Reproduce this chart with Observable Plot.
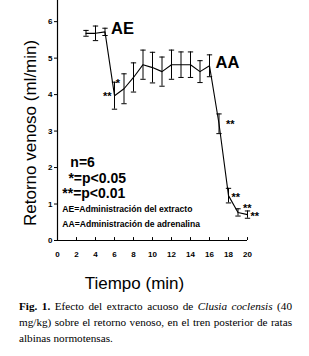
<!DOCTYPE html>
<html>
<head>
<meta charset="utf-8">
<script src="https://cdn.jsdelivr.net/npm/d3@7"></script>
<script src="https://cdn.jsdelivr.net/npm/@observablehq/plot@0.6"></script>
<style>
  html, body { margin: 0; padding: 0; background: #fff; }
  #chart svg { display: block; }
  #caption {
    font-family: "Liberation Serif", "Times New Roman", serif;
    font-size: 11.2px;
    line-height: 16px;
    width: 273px;
    margin: 3px 0 0 19px;
    color: #000;
  }
  #caption div { white-space: nowrap; }
  #caption div.j { text-align: justify; text-align-last: justify; }
</style>
</head>
<body>
<div id="chart"></div>
<div id="caption">
  <div class="j"><span><b>Fig. 1.</b></span> <span>Efecto del extracto acuoso de</span> <span><i>Clusia coclensis</i></span> <span>(40</span></div>
  <div class="j"><span>mg/kg)</span> <span>sobre el retorno venoso, en el tren posterior de ratas</span></div>
  <div><span>albinas normotensas.</span></div>
</div>
<script>
// Data
const time   = [3, 4, 5, 6, 7, 8, 9, 10, 11, 12, 13, 14, 15, 16, 17, 18, 19, 20];
const retorno = [5.68, 5.68, 5.72, 3.97, 4.16, 4.47, 4.82, 4.74, 4.63, 4.82, 4.82, 4.82, 4.63, 4.79, 3.2, 1.23, 0.77, 0.71];
const errorSE = [0.08, 0.2, 0.1, 0.37, 0.41, 0.4, 0.4, 0.42, 0.4, 0.4, 0.35, 0.35, 0.3, 0.3, 0.27, 0.2, 0.1, 0.1];
const signif  = ["", "", "", "**", "*", "", "", "", "", "", "", "", "", "", "**", "**", "**", "**"];
const xTicks = [0, 2, 4, 6, 8, 10, 12, 14, 16, 18, 20];
const yTicks = [0, 1, 2, 3, 4, 5, 6];
const eventTime = [5, 16];
const eventLabel = ["AE", "AA"];
const notesText = ["n=6", "*=p<0.05", "**=p<0.01"];
const notesX = [1.35, 1.15, 0.5];
const notesY = [2.13, 1.71, 1.29];
const legendText = ["AE=Administración del extracto", "AA=Administración de adrenalina"];
const legendY = [0.85, 0.44];
const yLabel = "Retorno venoso (ml/min)";
const xLabel = "Tiempo (min)";

const data = time.map((t, i) => ({t, v: retorno[i], e: errorSE[i], s: signif[i]}));
const events = eventTime.map((t, i) => ({t, v: retorno[time.indexOf(t)], label: eventLabel[i]}));
const notes = notesText.map((s, i) => ({s, x: notesX[i], y: notesY[i]}));
const legend = legendText.map((s, i) => ({s, y: legendY[i]}));

// star placement per point (style only)
const starDx = {6: -3, 7: -4, 17: 7, 18: 3, 19: 5, 20: 3};
const starDy = {6: 1, 7: -5, 17: 1, 18: 2, 19: -4, 20: 2};
const starAnchor = {6: "end", 7: "end", 17: "start", 18: "start", 19: "start", 20: "start"};

const font = "'Liberation Sans', Arial, sans-serif";
const stars = data.filter(d => d.s);

const chart = Plot.plot({
  width: 309,
  height: 295,
  marginLeft: 57,
  marginRight: 62,
  marginTop: 0,
  marginBottom: 55,
  style: {fontFamily: font, color: "#000", background: "#fff", overflow: "visible"},
  x: {type: "linear", domain: [0, 20]},
  y: {type: "linear", domain: [0, 6.58]},
  marks: [
    // axes lines
    Plot.ruleY([0], {x1: 0, x2: 20, stroke: "#000", strokeWidth: 1.2}),
    Plot.ruleX([0], {y1: 0, y2: 6.58, stroke: "#000", strokeWidth: 1.2}),
    // x ticks (inward)
    Plot.ruleX(xTicks, {x: d => d, y1: 0, y2: 0.08, stroke: "#000", strokeWidth: 1}),
    Plot.axisX({ticks: xTicks, tickSize: 0, tickPadding: 11, tickFormat: "d", fontSize: 8, fontWeight: "bold", label: null}),
    Plot.axisY({ticks: yTicks, tickSize: 3, tickPadding: 2, tickFormat: "d", fontSize: 8, fontWeight: "bold", label: null}),
    // error bars
    Plot.ruleX(data, {x: "t", y1: d => d.v - d.e, y2: d => d.v + d.e, stroke: "#000", strokeWidth: 1}),
    Plot.link(data, {x1: d => d.t - 0.28, x2: d => d.t + 0.28, y1: d => d.v + d.e, y2: d => d.v + d.e, stroke: "#000", strokeWidth: 1}),
    Plot.link(data, {x1: d => d.t - 0.28, x2: d => d.t + 0.28, y1: d => d.v - d.e, y2: d => d.v - d.e, stroke: "#000", strokeWidth: 1}),
    // mean line
    Plot.line(data, {x: "t", y: "v", stroke: "#000", strokeWidth: 1.1}),
    // significance stars
    ...stars.map(d => Plot.text([d], {x: "t", y: "v", text: "s", dx: starDx[d.t], dy: starDy[d.t], textAnchor: starAnchor[d.t], fontSize: 11, fontWeight: "bold"})),
    // event labels
    Plot.text(events, {x: "t", y: "v", text: "label", dx: 6, dy: -3, textAnchor: "start", fontSize: 16.5, fontWeight: "bold"}),
    // notes
    Plot.text(notes, {x: "x", y: "y", text: "s", textAnchor: "start", fontSize: 14, fontWeight: "bold"}),
    Plot.text(legend, {x: 0.5, y: "y", text: "s", textAnchor: "start", fontSize: 8.6, fontWeight: "bold"}),
    // axis titles
    Plot.text([yLabel], {x: -2.85, y: 2.95, text: d => d, rotate: -90, fontSize: 17, clip: false}),
    Plot.text([xLabel], {x: 8.1, y: -1.18, text: d => d, fontSize: 17, clip: false})
  ]
});
document.getElementById("chart").appendChild(chart);
</script>
</body>
</html>
